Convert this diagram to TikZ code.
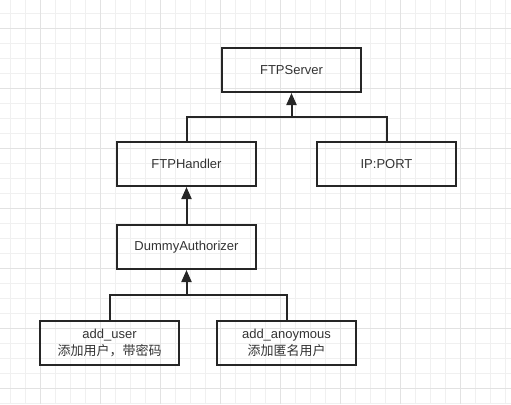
\documentclass[tikz,border=0pt]{standalone}
\usepackage{fontspec}
\setmainfont{Liberation Sans}
\newfontfamily\cjk{Noto Sans CJK SC}
\usetikzlibrary{positioning,arrows.meta,calc}
\definecolor{gridminor}{HTML}{F0F0F0}
\definecolor{gridmajor}{HTML}{E2E2E2}
\definecolor{textgrey}{HTML}{333333}
\tikzset{
  box/.style={draw=black!85, line width=2pt, minimum width=139pt, minimum height=44pt,
    inner sep=0pt, align=center, text=textgrey, font=\fontsize{13pt}{17pt}\selectfont},
  link/.style={draw=black!85, line width=2pt},
  uparrow/.style={link, -{Triangle[width=10pt,length=12pt]}}
}

\begin{document}
\begin{tikzpicture}[x=1pt,y=1pt]
  \useasboundingbox (0,0) rectangle (511,-404);
  % background grid
  \draw[gridminor, line width=1pt, step=15pt, shift={(10pt,-13.5pt)}] (-10,13.5) grid (501,-390.5);
  \draw[gridmajor, line width=1pt, step=60pt, shift={(40pt,-28.5pt)}] (-40,28.5) grid (471,-375.5);

  \node[box] (server) at (291.5,-70) {FTPServer};
  \node[box] (handler) [below=48pt of server, xshift=-105pt] {FTPHandler};
  \node[box] (ipport) [right=59pt of handler] {IP:PORT};
  \node[box] (dummy) [below=37pt of handler] {DummyAuthorizer};
  \node[box] (adduser) [below=50pt of dummy, xshift=-77pt] {add\_user\\{\cjk 添加用户，带密码}};
  \node[box] (addanon) [right=36pt of adduser] {add\_anoymous\\{\cjk 添加匿名用户}};

  % joins
  \coordinate (topjoin) at ($(server.south)!.5!(server.south |- handler.north)$);
  \coordinate (botjoin) at ($(dummy.south)!.5!(dummy.south |- adduser.north)$);

  \draw[link] (handler.north) |- (topjoin) -| (ipport.north);
  \draw[uparrow] (topjoin) -- (server.south);
  \draw[uparrow] (dummy) -- (handler);
  \draw[link] (adduser.north) |- (botjoin) -| (addanon.north);
  \draw[uparrow] (botjoin) -- (dummy.south);
\end{tikzpicture}
\end{document}
